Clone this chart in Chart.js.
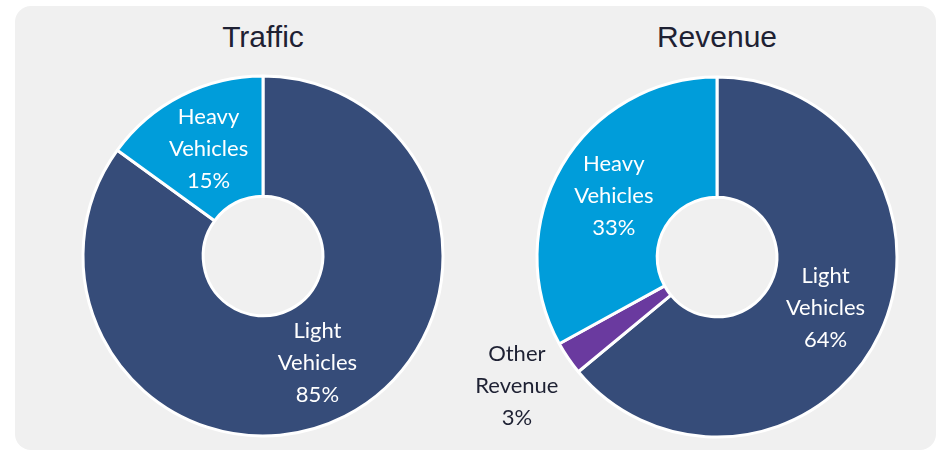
<!DOCTYPE html>
<html>
<head>
<meta charset="utf-8">
<script src="https://cdn.jsdelivr.net/npm/chart.js@4"></script>
<style>
  body { margin: 0; width: 941px; height: 453px; background: #fff; position: relative; overflow: hidden; }
  #panel { position: absolute; left: 15px; top: 6px; width: 921px; height: 444px; background: #f0f0f0; border-radius: 16px; }
  .titulo { position: absolute; top: 19px; width: 300px; text-align: center; font-family: "Liberation Sans", Arial, sans-serif; font-size: 30px; line-height: 36px; color: #1e2133; }
  canvas { position: absolute; }
</style>
</head>
<body>
<div id="panel"></div>
<div class="titulo" style="left:113px">Traffic</div>
<div class="titulo" style="left:567px">Revenue</div>
<canvas id="traffic" width="450" height="380" style="left:20px;top:70px"></canvas>
<canvas id="revenue" width="460" height="380" style="left:470px;top:70px"></canvas>
<script>
const trafficLabels = ["Light Vehicles", "Heavy Vehicles"];
const trafficValues = [85, 15];
const trafficColors = ["#364c79", "#009dda"];

const revenueLabels = ["Light Vehicles", "Other Revenue", "Heavy Vehicles"];
const revenueValues = [64, 3, 33];
const revenueColors = ["#364c79", "#6a3a9f", "#009dda"];

// labels that sit outside the ring
const outsideLabels = ["Other Revenue"];

const etiquetas = {
  id: "etiquetas",
  afterDatasetsDraw(chart) {
    const ctx = chart.ctx;
    const meta = chart.getDatasetMeta(0);
    const labels = chart.data.labels;
    const values = chart.data.datasets[0].data;
    ctx.save();
    ctx.font = "22px Lato";
    ctx.textAlign = "center";
    ctx.textBaseline = "middle";
    meta.data.forEach((arc, i) => {
      const props = arc.getProps(["x", "y", "startAngle", "endAngle", "innerRadius", "outerRadius"]);
      const mid = (props.startAngle + props.endAngle) / 2;
      let r = (props.innerRadius + props.outerRadius) / 2;
      let color = "#ffffff";
      let dy = 0;
      if (outsideLabels.includes(labels[i])) {
        r = props.outerRadius + 62;
        color = "#1e2133";
        dy = -7;
      }
      const x = props.x + Math.cos(mid) * r;
      const y = props.y + Math.sin(mid) * r + dy;
      const lines = labels[i].split(" ").concat([values[i] + "%"]);
      ctx.fillStyle = color;
      lines.forEach((line, j) => {
        ctx.fillText(line, x, y + (j - (lines.length - 1) / 2) * 32);
      });
    });
    ctx.restore();
  },
};

function crearDona(id, labels, values, colors, padding) {
  const ctx = document.getElementById(id).getContext("2d");
  return new Chart(ctx, {
    type: "doughnut",
    data: {
      labels: labels,
      datasets: [
        {
          data: values,
          backgroundColor: colors,
          borderColor: "#ffffff",
          borderWidth: 3,
          hoverOffset: 0,
        },
      ],
    },
    options: {
      responsive: false,
      animation: false,
      radius: 180,
      cutout: 60,
      layout: { padding: padding },
      plugins: {
        legend: { display: false },
        tooltip: { enabled: false },
      },
    },
    plugins: [etiquetas],
  });
}

crearDona("traffic", trafficLabels, trafficValues, trafficColors, { left: 61, right: 25, top: 4, bottom: 12 });
crearDona("revenue", revenueLabels, revenueValues, revenueColors, { left: 65, right: 31, top: 5, bottom: 11 });
</script>
</body>
</html>
